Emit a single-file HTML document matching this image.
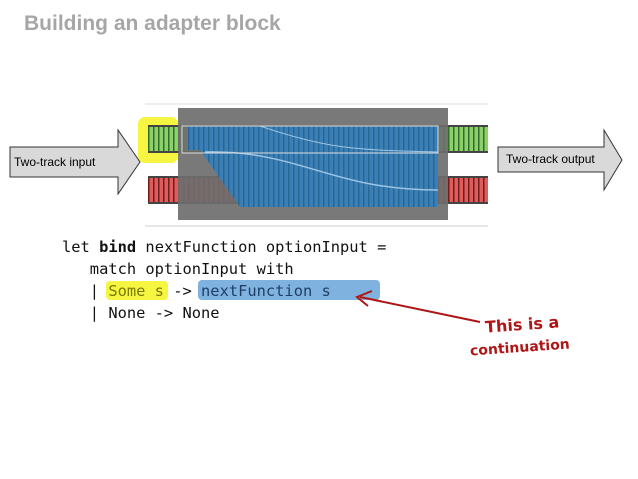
<!DOCTYPE html><html><head><style>
body{margin:0;width:638px;height:479px;background:#fff;position:relative;overflow:hidden;font-family:"Liberation Sans",sans-serif}
.a{position:absolute}
.code{font-family:"DejaVu Sans Mono","Liberation Mono",monospace;font-size:15.4px;color:#111;white-space:pre}
</style></head><body>
<div class="a" style="left:24px;top:12px;font-size:21px;font-weight:bold;color:#a6a6a6">Building an adapter block</div>
<svg class="a" style="left:0;top:0" width="638" height="479">
<defs>
<pattern id="tg" width="5" height="30" patternUnits="userSpaceOnUse"><rect width="5" height="30" fill="#8fcf6a"/><rect x="3" width="1.5" height="30" fill="#2d6e2d"/></pattern>
<pattern id="tr" width="5" height="30" patternUnits="userSpaceOnUse"><rect width="5" height="30" fill="#e05b5b"/><rect x="3" width="1.5" height="30" fill="#6e1d1d"/></pattern>
<pattern id="tb" width="5" height="30" patternUnits="userSpaceOnUse"><rect width="5" height="30" fill="#3a80b6"/><rect x="3" width="1.5" height="30" fill="#2a6694"/></pattern>
</defs>
<line x1="145" y1="104" x2="488" y2="104" stroke="#ddd"/>
<line x1="145" y1="226" x2="488" y2="226" stroke="#ccc"/>
<rect x="138" y="117" width="40" height="46" rx="7" fill="#f5f542"/>
<rect x="148" y="125" width="340" height="28" fill="url(#tg)"/>
<rect x="148" y="176" width="340" height="28" fill="url(#tr)"/>
<rect x="148" y="125" width="340" height="2" fill="#444"/><rect x="148" y="151" width="340" height="2" fill="#444"/>
<rect x="148" y="176" width="340" height="2" fill="#444"/><rect x="148" y="202" width="340" height="2" fill="#444"/>
<rect x="178" y="108" width="270" height="112" fill="#6e6e6e" opacity="0.92"/>
<path d="M188 126 H438 V207 H240 L200 150 H188 Z" fill="url(#tb)"/>
<path d="M205 152 C300 150 330 190 438 190" stroke="#9cc4e4" fill="none" stroke-width="1.5"/>
<path d="M260 126 C330 150 360 150 438 152" stroke="#9cc4e4" fill="none" stroke-width="1"/>
<rect x="182" y="126" width="256" height="27" fill="none" stroke="#ddd"/>
<path d="M10 147 H118 V130 L140 162 L118 194 V177 H10 Z" fill="#d9d9d9" stroke="#333"/>
<path d="M498 147 H604 V130 L622 160 L604 190 V172 H498 Z" fill="#d9d9d9" stroke="#333"/>
<rect x="106" y="281" width="62" height="19" rx="4" fill="#f5f542"/>
<rect x="198" y="280" width="182" height="20" rx="4" fill="#7fb2df"/>
<line x1="480" y1="322" x2="360" y2="297" stroke="#b01515" stroke-width="2"/>
<path d="M372 291 L357 297 L368 306" stroke="#b01515" stroke-width="2" fill="none"/>
</svg>
<div class="a" style="left:14px;top:155px;font-size:12px">Two-track input</div>
<div class="a" style="left:506px;top:152px;font-size:12px">Two-track output</div>
<div class="a code" style="left:62px;top:236px;line-height:22px">let <b>bind</b> nextFunction optionInput =
   match optionInput with
   | <span style="color:#7a7a00">Some s</span> -> <span style="color:#1f3f66">nextFunction s</span>
   | None -> None</div>
<div class="a" style="left:485px;top:315px;font-size:16px;font-weight:bold;color:#b01515;font-family:'DejaVu Sans',sans-serif;transform:rotate(-4deg)">This is a</div>
<div class="a" style="left:470px;top:340px;font-size:14px;font-weight:bold;color:#b01515;font-family:'DejaVu Sans',sans-serif;transform:rotate(-4deg)">continuation</div>
</body></html>
